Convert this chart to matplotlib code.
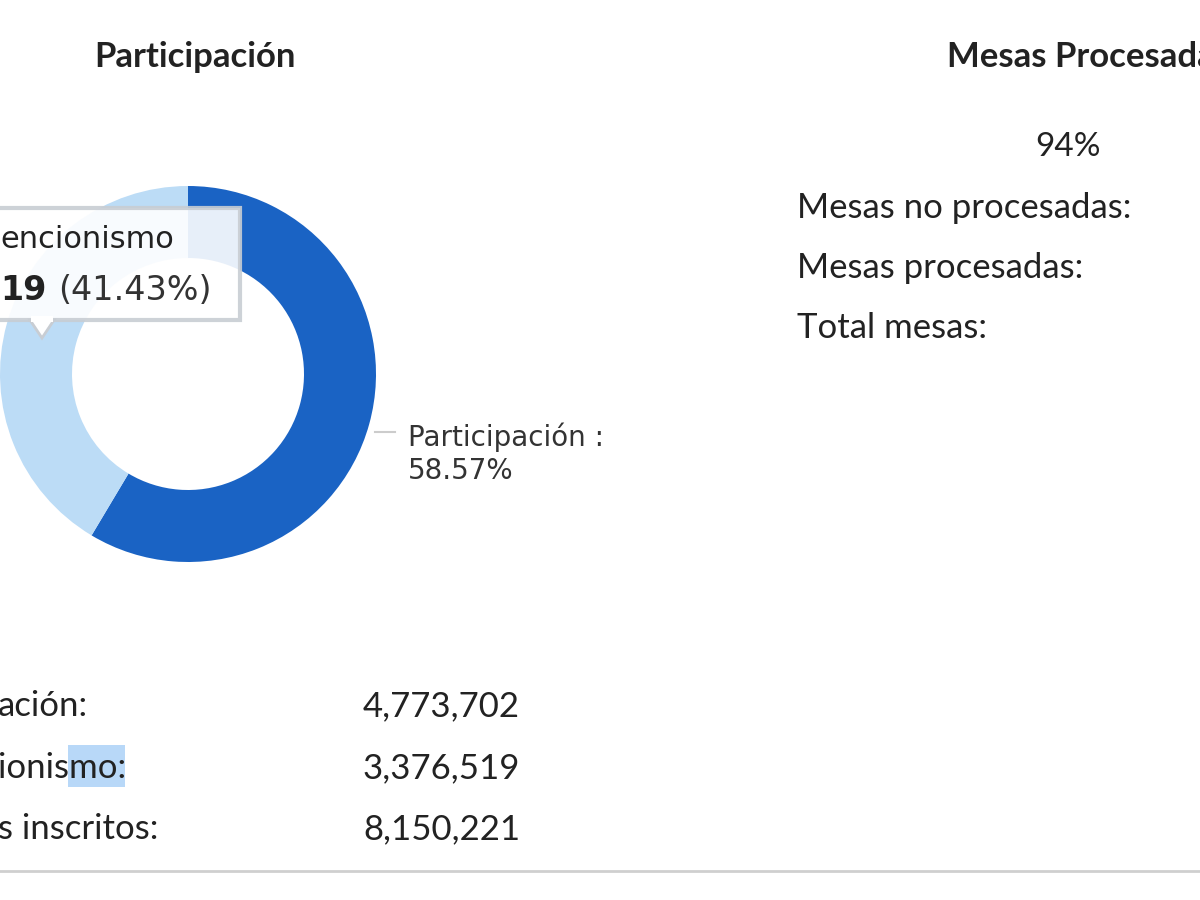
import matplotlib
matplotlib.use("Agg")
import matplotlib.pyplot as plt
from matplotlib.patches import Rectangle, Polygon

plt.rcParams["font.family"] = ["Lato", "DejaVu Sans"]

labels = ["Participación", "Abstencionismo"]
votes = [4773702, 3376519]
registered = 8150221
shares = [58.57, 41.43]
mesas_pct = 94
colors = ["#1a63c4", "#bcdcf6"]
text_col = "#222222"

fig = plt.figure(figsize=(12, 9), dpi=100)
ax = fig.add_axes([0, 0, 1, 1])

# donut (y axis is inverted below, so angles run visually clockwise)
ax.pie(shares, colors=colors, startangle=-90, counterclock=True,
       center=(188, 374), radius=188, wedgeprops=dict(width=72, linewidth=0),
       frame=True)
ax.set_xlim(0, 1200)
ax.set_ylim(900, 0)
ax.set_aspect("auto")
ax.axis("off")

# tooltip
ax.add_patch(Rectangle((-10, 208), 250, 112, facecolor="white", alpha=0.9,
                       edgecolor="#c8cdd3", lw=3, zorder=5))
ax.add_patch(Polygon([[30, 320], [54, 320], [42, 338]], closed=True,
                     facecolor="white", edgecolor="#c8cdd3", lw=2, zorder=5))
ax.add_patch(Rectangle((31, 316), 22, 6, facecolor="white", lw=0, zorder=6))
ax.text(0, 240, "encionismo", fontsize=22, color=text_col, va="center", zorder=7,
        family="DejaVu Sans")
ax.text(0, 291, "19", fontsize=24, color=text_col, va="center", zorder=7,
        fontweight="bold", family="DejaVu Sans")
ax.text(58, 291, f"({shares[1]:.2f}%)", fontsize=24, color="#333333",
        va="center", zorder=7, family="DejaVu Sans")

# slice label
ax.plot([375, 395], [432, 432], color="#cccccc", lw=1.5)
ax.text(408, 437, f"{labels[0]} :", fontsize=20, color="#333333", va="center",
        family="DejaVu Sans")
ax.text(408, 471, f"{shares[0]:.2f}%", fontsize=20, color="#333333",
        va="center", family="DejaVu Sans")

# headings
ax.text(195, 57, "Participación", fontsize=25, fontweight="bold",
        color=text_col, ha="center", va="center")
ax.text(947, 57, "Mesas Procesadas", fontsize=25, fontweight="bold",
        color=text_col, ha="left", va="center")

ax.text(1068, 147, f"{mesas_pct}%", fontsize=24, color=text_col,
        ha="center", va="center")
for y, t in zip([208, 268, 328],
                ["Mesas no procesadas:", "Mesas procesadas:", "Total mesas:"]):
    ax.text(797, y, t, fontsize=25, color=text_col, va="center")

# summary rows
ax.add_patch(Rectangle((68, 745), 57, 42, facecolor="#b8d8f8", lw=0))
row_labels = ["ación:", "ionismo:", "s inscritos:"]
row_values = [votes[0], votes[1], registered]
for y, t, v in zip([706, 768, 829], row_labels, row_values):
    ax.text(-2, y, t, fontsize=25, color=text_col, va="center")
    ax.text(363, y, f"{v:,}", fontsize=25, color=text_col, va="center")

ax.plot([0, 1200], [871, 871], color="#cfcfcf", lw=2)

fig.savefig("out.png", dpi=100)
